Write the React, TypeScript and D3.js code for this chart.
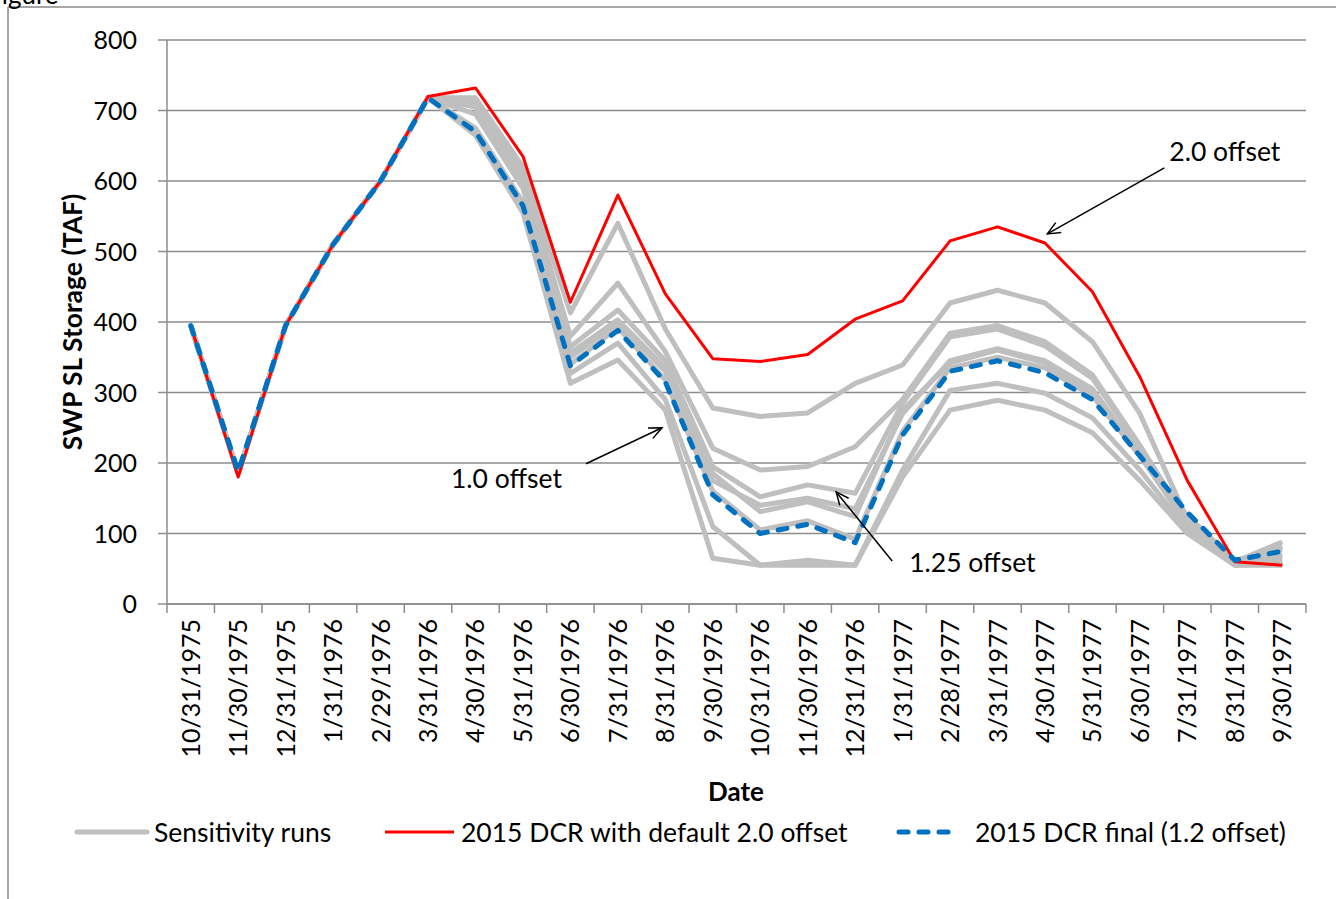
import React from 'react';
import * as d3 from 'd3';

const dates = [
  '10/31/1975', '11/30/1975', '12/31/1975', '1/31/1976', '2/29/1976', '3/31/1976',
  '4/30/1976', '5/31/1976', '6/30/1976', '7/31/1976', '8/31/1976', '9/30/1976',
  '10/31/1976', '11/30/1976', '12/31/1976', '1/31/1977', '2/28/1977', '3/31/1977',
  '4/30/1977', '5/31/1977', '6/30/1977', '7/31/1977', '8/31/1977', '9/30/1977',
];

const yTicks = [0, 100, 200, 300, 400, 500, 600, 700, 800];

// gray sensitivity runs
const sens1 = [395, 185, 395, 510, 600, 718, 718, 620, 413, 540, 390, 278, 266, 271, 313, 339, 427, 445, 427, 372, 270, 120, 58, 60];
const sens2 = [395, 185, 395, 510, 600, 718, 712, 610, 380, 455, 358, 221, 190, 195, 223, 290, 384, 395, 372, 325, 225, 118, 57, 70];
const sens3 = [395, 185, 395, 510, 600, 718, 705, 600, 365, 417, 345, 195, 152, 169, 157, 285, 379, 390, 366, 320, 222, 115, 58, 82];
const sens4 = [395, 185, 395, 510, 600, 718, 695, 590, 356, 403, 335, 185, 131, 145, 124, 275, 342, 360, 342, 302, 210, 112, 60, 88];
const sens5 = [395, 185, 395, 510, 600, 718, 675, 570, 350, 400, 330, 175, 140, 150, 135, 270, 345, 362, 345, 305, 212, 118, 60, 65];
const sens6 = [395, 185, 395, 510, 600, 718, 672, 568, 340, 392, 318, 160, 105, 118, 92, 245, 335, 350, 335, 295, 210, 125, 62, 78];
const sens7 = [395, 185, 395, 510, 600, 718, 668, 563, 327, 370, 290, 110, 55, 62, 55, 190, 303, 313, 299, 264, 190, 105, 55, 55];
const sens8 = [395, 185, 395, 510, 600, 718, 665, 555, 313, 346, 275, 65, 55, 55, 55, 180, 275, 289, 275, 243, 175, 100, 55, 58];
const sensitivityRuns = [sens1, sens2, sens3, sens4, sens5, sens6, sens7, sens8];

const defaultOffset = [395, 180, 395, 510, 600, 720, 732, 635, 428, 580, 440, 348, 344, 354, 404, 430, 515, 535, 512, 443, 322, 175, 60, 55];
const finalOffset = [395, 188, 395, 510, 600, 718, 670, 565, 338, 388, 315, 155, 100, 113, 87, 240, 330, 345, 328, 290, 210, 130, 62, 75];

// annotations: target point in data terms (category index, value)
const notes = [
  { label: '2.0 offset', idx: 18.05, value: 525, tail: [117, -66], text: [122, -82], anchor: 'start' },
  { label: '1.0 offset', idx: 9.93, value: 250, tail: [-76, 36], text: [-100, 51], anchor: 'end' },
  { label: '1.25 offset', idx: 13.6, value: 159, tail: [56, 69], text: [73, 71], anchor: 'start' },
];

const W = 1336;
const H = 899;
const left = 167;
const right = 1306;
const top = 40;
const bottom = 604;
const font = 'Lato, "Open Sans", sans-serif';

export default function App() {
  const x = d3.scaleBand().domain(dates).range([left, right]);
  const cx = (d: string) => (x(d) as number) + x.bandwidth() / 2;
  const xi = d3.scaleLinear().domain([0, dates.length - 1]).range([cx(dates[0]), cx(dates[dates.length - 1])]);
  const y = d3.scaleLinear().domain([0, 800]).range([bottom, top]);

  const line = d3.line<number>().x((_, i) => cx(dates[i])).y(v => y(v));

  const arrowHead = (tx: number, ty: number, fx: number, fy: number) => {
    const a = Math.atan2(ty - fy, tx - fx);
    const len = 14;
    const spread = 0.42;
    const p1 = [tx - len * Math.cos(a - spread), ty - len * Math.sin(a - spread)];
    const p2 = [tx - len * Math.cos(a + spread), ty - len * Math.sin(a + spread)];
    return `M${p1[0]},${p1[1]}L${tx},${ty}L${p2[0]},${p2[1]}`;
  };

  return (
    <svg width={W} height={H} style={{ position: 'absolute', left: 0, top: 0, background: '#fff' }} fontFamily={font}>
      {/* page frame */}
      <line x1={8} x2={8} y1={7} y2={H} stroke="#888" strokeWidth={1.5} />
      <line x1={8} x2={W} y1={7} y2={7} stroke="#888" strokeWidth={1.5} />
      <text x={-13} y={4} fontSize={26} fill="#000">Figure</text>

      {/* grid + y axis */}
      {yTicks.map(t => (
        <g key={t}>
          <line x1={left - 9} x2={right} y1={y(t)} y2={y(t)} stroke="#8c8c8c" strokeWidth={1.5} />
          <text x={137} y={y(t)} dy="0.36em" textAnchor="end" fontSize={25}>{t}</text>
        </g>
      ))}
      <line x1={left} x2={left} y1={top} y2={bottom} stroke="#8c8c8c" strokeWidth={1.5} />

      {/* x axis */}
      <line x1={left} x2={right} y1={bottom} y2={bottom} stroke="#8c8c8c" strokeWidth={1.5} />
      {dates.map(d => (
        <line key={'t' + d} x1={x(d) as number} x2={x(d) as number} y1={bottom} y2={bottom + 9} stroke="#8c8c8c" strokeWidth={1.5} />
      ))}
      <line x1={right} x2={right} y1={bottom} y2={bottom + 9} stroke="#8c8c8c" strokeWidth={1.5} />
      {dates.map(d => (
        <text key={'l' + d} transform={`translate(${cx(d)},${bottom + 15}) rotate(-90)`} textAnchor="end" dy="0.36em" fontSize={25}>{d}</text>
      ))}

      {/* series */}
      {sensitivityRuns.map((s, i) => (
        <path key={'s' + i} d={line(s) || ''} fill="none" stroke="#bfbfbf" strokeWidth={5} strokeLinejoin="round" />
      ))}
      <path d={line(defaultOffset) || ''} fill="none" stroke="#ff0000" strokeWidth={3} strokeLinejoin="round" />
      <path d={line(finalOffset) || ''} fill="none" stroke="#0070c0" strokeWidth={5} strokeDasharray="9 11" strokeLinecap="round" strokeLinejoin="round" />

      {/* annotations */}
      {notes.map(n => {
        const tx = xi(n.idx);
        const ty = y(n.value);
        const fx = tx + n.tail[0];
        const fy = ty + n.tail[1];
        return (
          <g key={n.label}>
            <line x1={fx} y1={fy} x2={tx} y2={ty} stroke="#000" strokeWidth={1.5} />
            <path d={arrowHead(tx, ty, fx, fy)} fill="none" stroke="#000" strokeWidth={1.5} />
            <text x={tx + n.text[0]} y={ty + n.text[1]} textAnchor={n.anchor as any} dy="0.36em" fontSize={26.5}>{n.label}</text>
          </g>
        );
      })}

      {/* axis titles */}
      <text transform={`translate(72,${(top + bottom) / 2}) rotate(-90)`} textAnchor="middle" dy="0.36em" fontSize={26.5} fontWeight="bold">SWP SL Storage (TAF)</text>
      <text x={736} y={792} textAnchor="middle" dy="0.36em" fontSize={26} fontWeight="bold">Date</text>

      {/* legend */}
      <g fontSize={26.5}>
        <line x1={77} x2={147} y1={832} y2={832} stroke="#bfbfbf" strokeWidth={5} strokeLinecap="round" />
        <text x={154} y={832} dy="0.36em">Sensitivity runs</text>
        <line x1={385} x2={454} y1={832} y2={832} stroke="#ff0000" strokeWidth={3} />
        <text x={461} y={832} dy="0.36em">2015 DCR with default 2.0 offset</text>
        <line x1={899} x2={958} y1={832} y2={832} stroke="#0070c0" strokeWidth={5} strokeDasharray="9 11" strokeLinecap="round" />
        <text x={975} y={832} dy="0.36em">2015 DCR final (1.2 offset)</text>
      </g>
    </svg>
  );
}
